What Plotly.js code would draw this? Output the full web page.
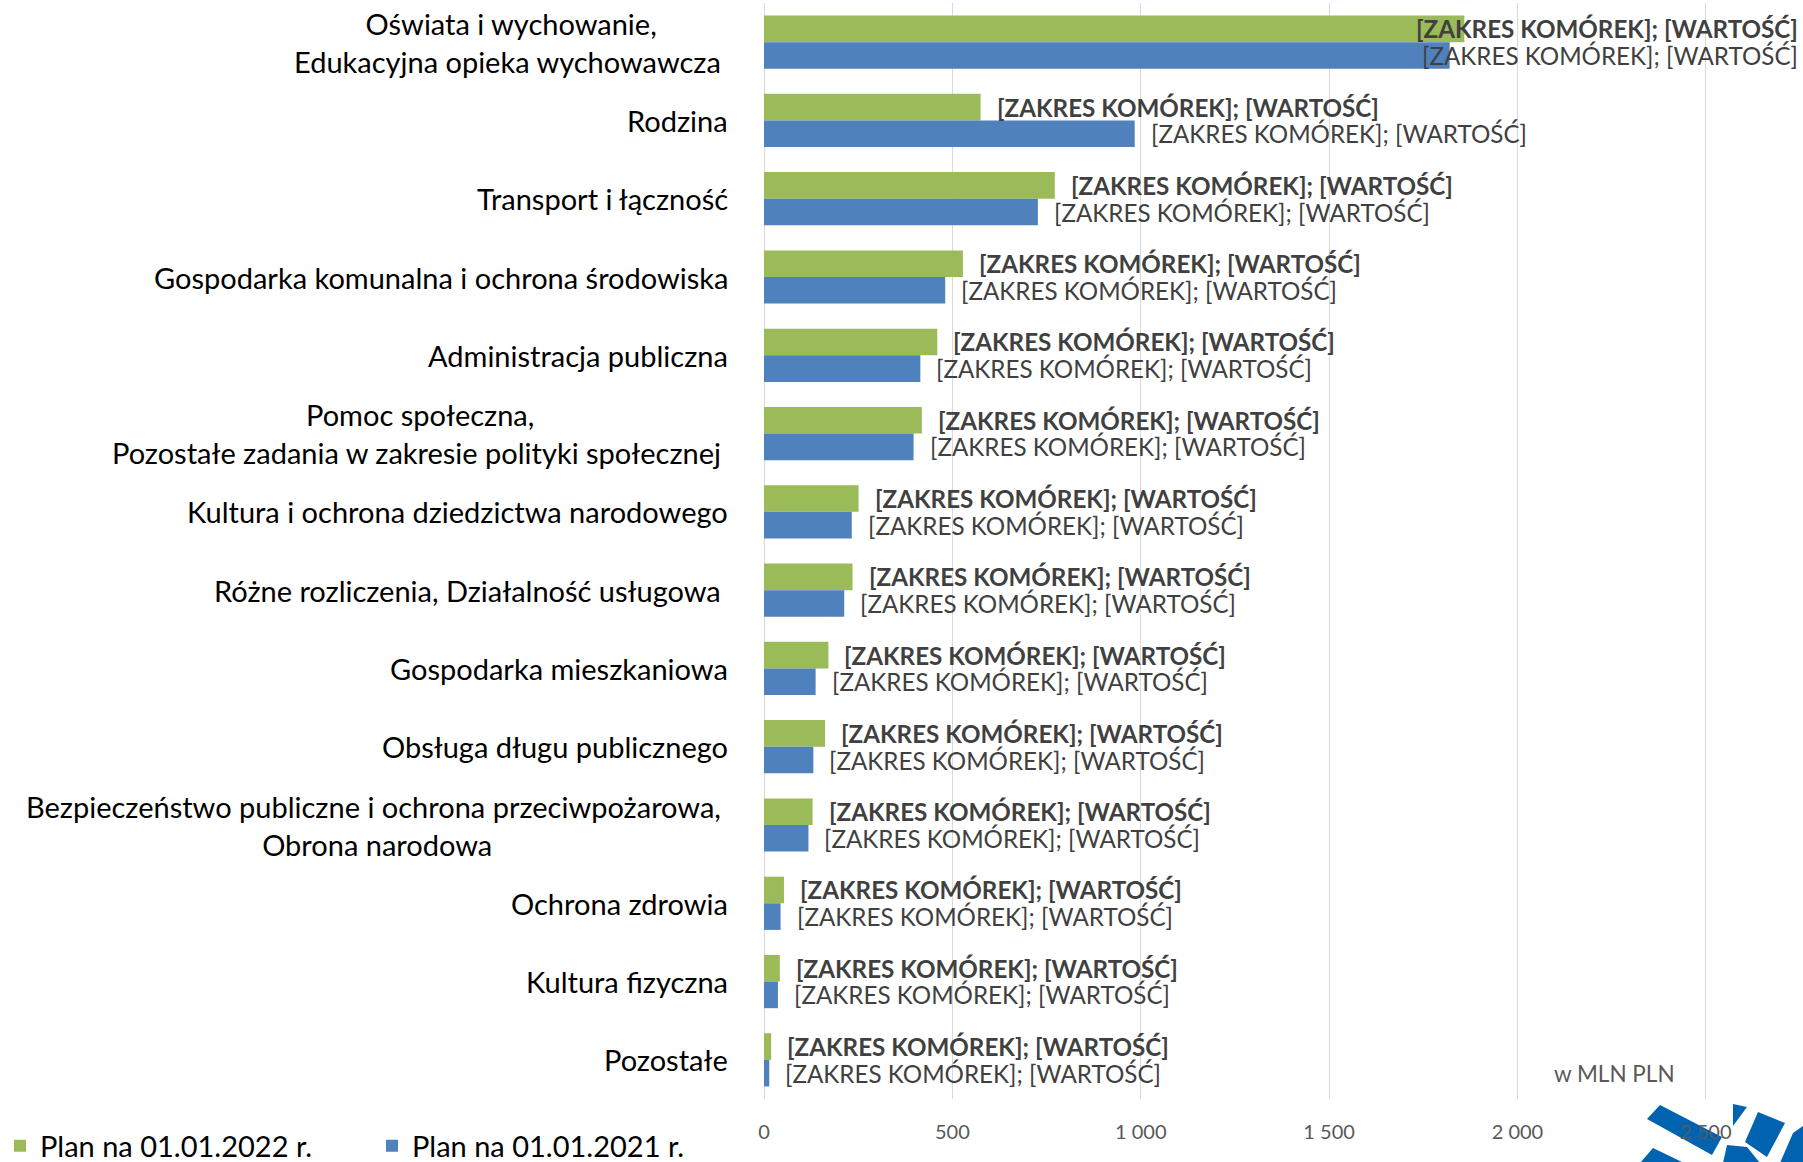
<!DOCTYPE html>
<html>
<head>
<meta charset="utf-8">
<script src="https://cdn.plot.ly/plotly-3.0.1.min.js"></script>
<style>
  html, body { margin: 0; padding: 0; background: #ffffff; }
  #chart { width: 1803px; height: 1162px; }
</style>
</head>
<body>
<div id="chart"></div>
<script>
// ---- data ----
const categories = [
  "Oświata i wychowanie,<br>Edukacyjna opieka wychowawcza ",
  "Rodzina",
  "Transport i łączność",
  "Gospodarka komunalna i ochrona środowiska",
  "Administracja publiczna",
  "Pomoc społeczna,<br>Pozostałe zadania w zakresie polityki społecznej ",
  "Kultura i ochrona dziedzictwa narodowego",
  "Różne rozliczenia, Działalność usługowa ",
  "Gospodarka mieszkaniowa",
  "Obsługa długu publicznego",
  "Bezpieczeństwo publiczne i ochrona przeciwpożarowa, <br>Obrona narodowa",
  "Ochrona zdrowia",
  "Kultura fizyczna",
  "Pozostałe"
];
const seriesNames = ["Plan na 01.01.2022 r.", "Plan na 01.01.2021 r."];
const plan2022 = [1859, 575, 772, 528, 460, 419, 251, 235, 171, 162, 129, 53, 42, 19];
const plan2021 = [1820, 984, 727, 481, 415, 397, 233, 213, 137, 131, 118, 44, 37, 14];
const dataLabelText = "[ZAKRES KOMÓREK]; [WARTOŚĆ]";
const tickVals = [0, 500, 1000, 1500, 2000, 2500];
const tickText = ["0", "500", "1 000", "1 500", "2 000", "2 500"];
const unitNote = "w MLN PLN";

// ---- layout constants ----
const W = 1803, H = 1162;
const M = { l: 764, r: 3, t: 3, b: 63 };
const X_MAX = 2750;
const plotW = W - M.l - M.r, plotH = H - M.t - M.b;
const GREEN = "#9BBB59", BLUE = "#4F81BD";
const FONT = "Lato, 'Open Sans', sans-serif";
const LABEL_W = 382;     // approx. data-label width in px
const LABEL_GAP = 14;
const BAR_HALF = 13.3;

function xPix(v) { return M.l + v / X_MAX * plotW; }

const traces = [
  { type: "bar", orientation: "h", name: seriesNames[0], y: categories, x: plan2022,
    marker: { color: GREEN } },
  { type: "bar", orientation: "h", name: seriesNames[1], y: categories, x: plan2021,
    marker: { color: BLUE } }
];

const annotations = [];
// category labels (centred lines, block right-aligned)
categories.forEach(c => {
  annotations.push({
    xref: "paper", x: 0, xanchor: "right", xshift: -34,
    yref: "y", y: c, yanchor: "middle",
    text: c.replace(/ (<br>|$)/g, "\u00a0$1"),
    showarrow: false, align: "center",
    font: { family: FONT, size: 29, color: "#000000" }
  });
});
// data labels
[[plan2022, BAR_HALF, true], [plan2021, -BAR_HALF, false]].forEach(([vals, ys, bold]) => {
  vals.forEach((v, i) => {
    const txt = bold ? "<b>" + dataLabelText + "</b>" : dataLabelText;
    const overflow = xPix(v) + LABEL_GAP + LABEL_W > W - M.r;
    const a = {
      yref: "y", y: categories[i], yanchor: "middle", yshift: ys,
      text: txt, showarrow: false,
      font: { family: FONT, size: 24.2, color: "#404040" }
    };
    if (overflow) {
      Object.assign(a, { xref: "paper", x: 1, xanchor: "right" });
    } else {
      Object.assign(a, { xref: "x", x: v, xanchor: "left", xshift: LABEL_GAP });
    }
    annotations.push(a);
  });
});
annotations.push({
  xref: "paper", x: (1614 - M.l) / plotW, xanchor: "center",
  yref: "paper", y: (H - M.b - 1073) / plotH, yanchor: "middle",
  text: unitNote, showarrow: false,
  font: { family: FONT, size: 22.5, color: "#595959" }
});

// logo (decoration) polygons in page pixels
const logoPolys = [
  [[1647,1119],[1660,1105],[1722,1137],[1712,1155]],
  [[1640,1163],[1653,1148],[1684,1163]],
  [[1733,1104],[1747,1107],[1733,1126]],
  [[1727,1145],[1747,1147],[1760,1163],[1723,1163]],
  [[1758,1112],[1785,1123],[1767,1157],[1745,1142]],
  [[1793,1133],[1803,1126],[1803,1163],[1780,1163]]
];
const shapes = logoPolys.map(p => ({
  type: "path", xref: "paper", yref: "paper", layer: "below",
  path: "M" + p.map(([px, py]) => ((px - M.l) / plotW).toFixed(5) + "," + ((H - M.b - py) / plotH).toFixed(5)).join("L") + "Z",
  fillcolor: "#0063B0", line: { width: 0 }
}));

const layout = {
  width: W, height: H,
  margin: M,
  paper_bgcolor: "#ffffff", plot_bgcolor: "rgba(0,0,0,0)",
  barmode: "group", bargap: 0.32, bargroupgap: 0,
  showlegend: true,
  legend: {
    orientation: "h", xref: "container", yref: "container",
    x: 0, xanchor: "left", y: 16 / H, yanchor: "middle",
    entrywidth: 327, entrywidthmode: "pixels",
    bgcolor: "rgba(0,0,0,0)",
    font: { family: FONT, size: 29, color: "#000000" },
    traceorder: "normal", itemclick: false
  },
  xaxis: {
    range: [0, X_MAX], tickvals: tickVals, ticktext: tickText,
    showgrid: true, gridcolor: "#D9D9D9", gridwidth: 1,
    zeroline: true, zerolinecolor: "#D9D9D9", zerolinewidth: 1,
    showline: false, ticks: "", ticklabelstandoff: 19,
    tickfont: { family: FONT, size: 20, color: "#595959" },
    fixedrange: true
  },
  yaxis: {
    type: "category", autorange: "reversed",
    showticklabels: false, showgrid: false, zeroline: false, ticks: "",
    fixedrange: true
  },
  annotations: annotations,
  shapes: shapes,
  hovermode: false
};

Plotly.newPlot("chart", traces, layout, { displayModeBar: false, staticPlot: true });
</script>
</body>
</html>
